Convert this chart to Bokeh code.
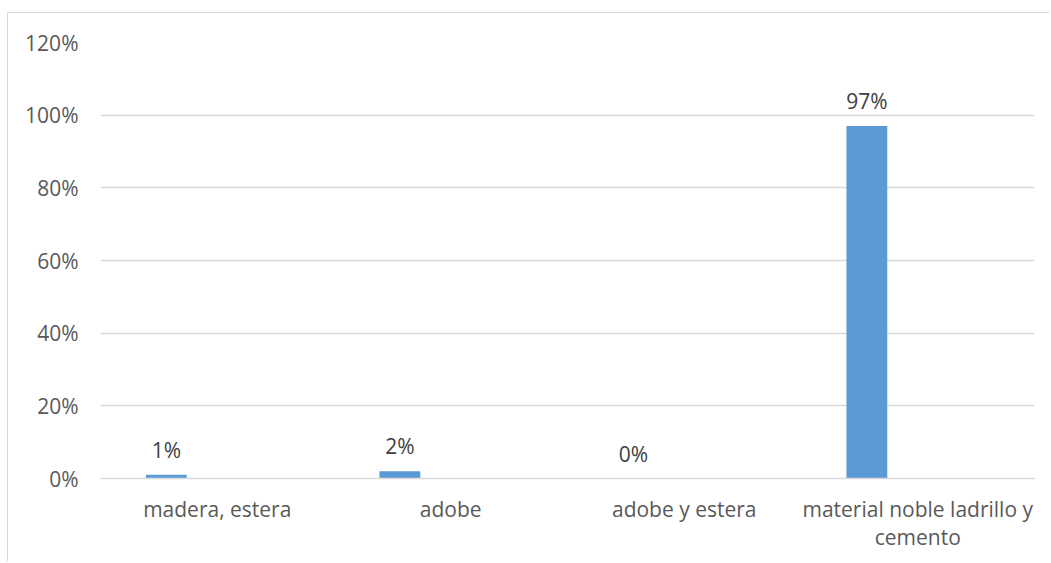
from bokeh.plotting import figure
from bokeh.models import ColumnDataSource, FactorRange, Range1d, FixedTicker, NumeralTickFormatter
from bokeh.transform import dodge
from bokeh.core.properties import value
from bokeh.embed import file_html
from bokeh.resources import INLINE

categories = ["madera, estera", "adobe", "adobe y estera", "material noble ladrillo y\ncemento"]
values = [0.01, 0.02, 0.00, 0.97]
labels = [f"{round(v * 100)}%" for v in values]
y_ticks = [0, 0.2, 0.4, 0.6, 0.8, 1.0, 1.2]

FONT = "Open Sans"
FS = "21px"
src = ColumnDataSource(dict(cat=categories, val=values, lab=labels))

p = figure(width=1042, height=549, x_range=FactorRange(*categories, range_padding=0),
           y_range=Range1d(0, 1.2), output_backend="svg", toolbar_location=None,
           min_border_left=92, min_border_right=16, min_border_top=29, min_border_bottom=84)
p.margin = (12, 0, 0, 7)
p.styles = {"border-left": "1px solid #d9d9d9", "border-top": "1px solid #d9d9d9"}
p.outline_line_color = None

off = -0.218
p.vbar(x=dodge("cat", off, range=p.x_range), top="val", width=0.175, source=src,
       fill_color="#5b9bd5", line_color=None)
p.text(x=dodge("cat", off, range=p.x_range), y="val", text="lab", source=src,
       text_align="center", text_baseline="alphabetic", y_offset=-25,
       text_font=value(FONT), text_font_size=FS, text_color="#404040")

p.yaxis.ticker = FixedTicker(ticks=y_ticks)
p.yaxis.formatter = NumeralTickFormatter(format="0%")
p.yaxis.axis_line_color = None
p.yaxis.major_tick_line_color = None
p.yaxis.major_tick_out = 0
p.yaxis.minor_tick_line_color = None
p.yaxis.major_label_standoff = 22
p.yaxis.major_label_text_font = FONT
p.yaxis.major_label_text_font_size = FS
p.yaxis.major_label_text_color = "#595959"

p.xaxis.axis_line_color = "#d9d9d9"
p.xaxis.axis_line_width = 1.3
p.xaxis.major_tick_line_color = None
p.xaxis.major_tick_out = 0
p.xaxis.minor_tick_line_color = None
p.xaxis.major_label_standoff = 16
p.xaxis.major_label_text_font = FONT
p.xaxis.major_label_text_font_size = FS
p.xaxis.major_label_text_color = "#595959"
p.xaxis.major_label_text_line_height = 1.0

p.xgrid.grid_line_color = None
p.ygrid.ticker = FixedTicker(ticks=y_ticks)
p.ygrid.grid_line_color = "#d9d9d9"
p.ygrid.grid_line_width = 1.3

open("out.html", "w").write(file_html(p, INLINE))
